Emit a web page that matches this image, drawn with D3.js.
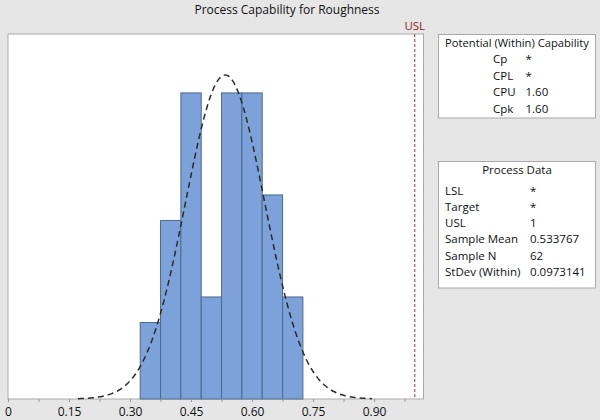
<!DOCTYPE html>
<html><head><meta charset="utf-8">
<script src="https://cdn.jsdelivr.net/npm/d3@7"></script>
<style>
html,body{margin:0;padding:0;background:#e6e6e6;}
text{font-family:"Open Sans","Noto Sans",sans-serif;}
</style></head>
<body>
<svg id="chart" width="600" height="420"></svg>
<script>
// ---- data ----
const binStarts = [0.325, 0.375, 0.425, 0.475, 0.525, 0.575, 0.625, 0.675];
const binWidth = 0.05;
const counts = [3, 7, 12, 4, 12, 12, 8, 4];
const xTickValues = [0, 0.15, 0.30, 0.45, 0.60, 0.75, 0.90];
const xTickLabels = ["0", "0.15", "0.30", "0.45", "0.60", "0.75", "0.90"];
const minorTickValues = [0.075, 0.225, 0.375, 0.525, 0.675, 0.825, 0.975];
const usl = 1;
const sampleMean = 0.533767;
const stdevWithin = 0.0973141;
const sampleN = 62;
const curveRange = [0.172, 0.895];
const capLabels = ["Cp", "CPL", "CPU", "Cpk"];
const capValues = ["*", "*", "1.60", "1.60"];
const dataLabels = ["LSL", "Target", "USL", "Sample Mean", "Sample N", "StDev (Within)"];
const dataValues = ["*", "*", "1", "0.533767", "62", "0.0973141"];

// ---- layout ----
const svg = d3.select("#chart");
const plot = {left: 8, top: 34, right: 423.5, bottom: 399};
const x = d3.scaleLinear().domain([0, 1.0215]).range([plot.left, plot.right]);
const y = d3.scaleLinear().domain([0, 14.31]).range([plot.bottom, plot.top]);

svg.append("text").attr("x", 287).attr("y", 14).attr("text-anchor", "middle")
  .attr("font-size", 12).attr("fill", "#111").text("Process Capability for Roughness");

svg.append("rect").attr("x", plot.left).attr("y", plot.top)
  .attr("width", plot.right - plot.left).attr("height", plot.bottom - plot.top)
  .attr("fill", "#fff").attr("stroke", "#a9a9a9").attr("stroke-width", 1);

// bars
svg.append("g").selectAll("rect").data(binStarts).join("rect")
  .attr("x", (d) => x(d))
  .attr("y", (d, i) => y(counts[i]))
  .attr("width", (d) => x(d + binWidth) - x(d))
  .attr("height", (d, i) => y(0) - y(counts[i]))
  .attr("fill", "#7ca2d9").attr("stroke", "#4d6a90").attr("stroke-width", 1);

// normal curve (counts scale)
const pts = d3.range(0, 201).map(i => {
  const v = curveRange[0] + (curveRange[1] - curveRange[0]) * i / 200;
  const z = (v - sampleMean) / stdevWithin;
  const dens = Math.exp(-0.5 * z * z) / (stdevWithin * Math.sqrt(2 * Math.PI));
  return [v, dens * sampleN * binWidth];
});
svg.append("path").datum(pts)
  .attr("d", d3.line().x(d => x(d[0])).y(d => y(d[1])).curve(d3.curveBasis))
  .attr("fill", "none").attr("stroke", "#2b2b2b").attr("stroke-width", 1.5)
  .attr("stroke-dasharray", "6,4");

// USL
svg.append("line").attr("x1", x(usl)).attr("x2", x(usl))
  .attr("y1", plot.top).attr("y2", plot.bottom)
  .attr("stroke", "#c0504d").attr("stroke-width", 1.2).attr("stroke-dasharray", "3,2");
svg.append("text").attr("x", x(usl)).attr("y", 30).attr("text-anchor", "middle")
  .attr("font-size", 11.5).attr("fill", "#8b1f1f").text("USL");

// x axis
const xAxis = d3.axisBottom(x).tickValues(xTickValues)
  .tickFormat((d, i) => xTickLabels[i]).tickSize(3).tickSizeOuter(0);
const gx = svg.append("g").attr("transform", `translate(0,${plot.bottom})`).call(xAxis);
gx.select(".domain").remove();
gx.selectAll(".tick line").attr("stroke", "#999");
gx.selectAll(".tick text").attr("font-size", 12).attr("fill", "#111")
  .attr("font-family", '"Open Sans","Noto Sans",sans-serif').attr("dy", "0.95em");
const gm = svg.append("g").attr("transform", `translate(0,${plot.bottom})`)
  .call(d3.axisBottom(x).tickValues(minorTickValues).tickFormat("").tickSize(3).tickSizeOuter(0));
gm.select(".domain").remove();
gm.selectAll(".tick line").attr("stroke", "#999");

// panel 1
const p1 = svg.append("g");
p1.append("rect").attr("x", 438.5).attr("y", 34.5).attr("width", 157).attr("height", 83.5)
  .attr("fill", "#fff").attr("stroke", "#a9a9a9");
p1.append("text").attr("x", 517).attr("y", 47).attr("text-anchor", "middle")
  .attr("font-size", 11.2).attr("fill", "#111").text("Potential (Within) Capability");
capLabels.forEach((l, i) => {
  p1.append("text").attr("x", 493).attr("y", 63 + i * 16.5).attr("font-size", 11.5)
    .attr("fill", "#111").text(l);
  p1.append("text").attr("x", 525.5).attr("y", 63 + i * 16.5).attr("font-size", 11.5)
    .attr("fill", "#111").text(capValues[i]);
});

// panel 2
const p2 = svg.append("g");
p2.append("rect").attr("x", 438.5).attr("y", 161.5).attr("width", 157).attr("height", 126.5)
  .attr("fill", "#fff").attr("stroke", "#a9a9a9");
p2.append("text").attr("x", 517).attr("y", 174).attr("text-anchor", "middle")
  .attr("font-size", 11.5).attr("fill", "#111").text("Process Data");
dataLabels.forEach((l, i) => {
  p2.append("text").attr("x", 445).attr("y", 194.5 + i * 16.3).attr("font-size", 11.5)
    .attr("fill", "#111").text(l);
  p2.append("text").attr("x", 530).attr("y", 194.5 + i * 16.3).attr("font-size", 11.5)
    .attr("fill", "#111").text(dataValues[i]);
});
</script>
</body></html>
